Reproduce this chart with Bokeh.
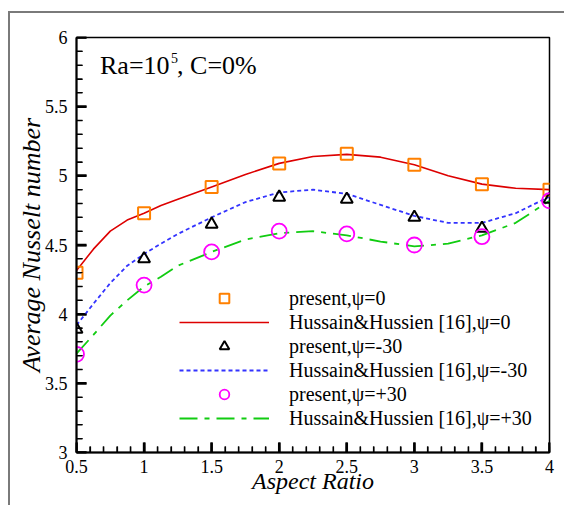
import math
from bokeh.plotting import figure
from bokeh.models import Range1d, FixedTicker, Legend, LegendItem, Label, InlineStyleSheet
from bokeh.embed import file_html
from bokeh.resources import INLINE

# ---- data ----
aspect = [0.5, 1.0, 1.5, 2.0, 2.5, 3.0, 3.5, 4.0]
present_0 = [4.30, 4.73, 4.92, 5.09, 5.16, 5.08, 4.94, 4.90]
present_m30 = [3.89, 4.40, 4.65, 4.845, 4.83, 4.70, 4.62, 4.83]
present_p30 = [3.71, 4.21, 4.45, 4.60, 4.58, 4.50, 4.56, 4.82]

line_x = [0.5, 0.625, 0.75, 0.875, 1.0, 1.125, 1.25, 1.5, 1.75, 2.0, 2.25, 2.5,
          2.75, 3.0, 3.25, 3.5, 3.75, 4.0]
hh_0 = [4.315, 4.47, 4.60, 4.68, 4.73, 4.785, 4.83, 4.92, 5.01, 5.09, 5.14, 5.155,
        5.135, 5.08, 5.00, 4.94, 4.91, 4.90]
hh_m30 = [3.92, 4.075, 4.225, 4.35, 4.435, 4.51, 4.58, 4.70, 4.81, 4.88, 4.90, 4.87,
          4.79, 4.71, 4.66, 4.66, 4.73, 4.85]
hh_p30 = [3.715, 3.85, 3.99, 4.10, 4.20, 4.27, 4.35, 4.45, 4.54, 4.585, 4.60, 4.57,
          4.525, 4.49, 4.51, 4.57, 4.66, 4.82]

x_ticks = [0.5, 1.0, 1.5, 2.0, 2.5, 3.0, 3.5, 4.0]
x_tick_labels = ["0.5", "1", "1.5", "2", "2.5", "3", "3.5", "4"]
y_ticks = [3.0, 3.5, 4.0, 4.5, 5.0, 5.5, 6.0]
y_tick_labels = ["3", "3.5", "4", "4.5", "5", "5.5", "6"]
x_minor = [round(0.5 + 0.1 * i, 2) for i in range(36)]
y_minor = [round(3.0 + 0.1 * i, 2) for i in range(31)]

legend_labels = [
    "present,\u03c8=0",
    "Hussain&Hussien [16],\u03c8=0",
    "present,\u03c8=-30",
    "Hussain&Hussien [16],\u03c8=-30",
    "present,\u03c8=+30",
    "Hussain&Hussien [16],\u03c8=+30",
]

FONT = "Liberation Serif"
X0, X1, Y0, Y1 = 0.5, 4.0, 3.0, 6.0

frame_css = InlineStyleSheet(css="""
:host::after {
  content: "";
  position: absolute;
  left: 8px; top: 11px; width: 700px; height: 700px;
  border-left: 2px solid #7a7a7a;
  border-top: 2px solid #7a7a7a;
  pointer-events: none;
  z-index: 5;
}
""")

p = figure(width=564, height=505, x_range=Range1d(X0, X1), y_range=Range1d(Y0, Y1),
           output_backend="svg", toolbar_location=None,
           min_border_left=76, min_border_right=15, min_border_top=37, min_border_bottom=53,
           stylesheets=[frame_css])
p.background_fill_color = "white"
p.border_fill_color = "white"
p.xgrid.visible = False
p.ygrid.visible = False
p.outline_line_color = "black"
p.outline_line_width = 1.5

# inward ticks: dash markers centred on the axis line; the frame clips the outer half
xm = [t for t in x_minor if all(abs(t - m) > 1e-6 for m in x_ticks)]
ym = [t for t in y_minor if all(abs(t - m) > 1e-6 for m in y_ticks)]
p.scatter(x_ticks, [Y0] * len(x_ticks), marker="dash", size=20, angle=math.pi / 2,
          line_color="black", line_width=2.5)
p.scatter(xm, [Y0] * len(xm), marker="dash", size=12, angle=math.pi / 2,
          line_color="black", line_width=1.5)
p.scatter([X0] * len(y_ticks), y_ticks, marker="dash", size=20,
          line_color="black", line_width=2.5)
p.scatter([X0] * len(ym), ym, marker="dash", size=12,
          line_color="black", line_width=1.5)

r_l0 = p.line(line_x, hh_0, line_color="#dd0000", line_width=1.6)
r_lm = p.line(line_x, hh_m30, line_color="#3333ff", line_width=1.8, line_dash="4 3")
r_lp = p.line(line_x, hh_p30, line_color="#11cc11", line_width=1.8, line_dash="18 7 5 7")

r_s0 = p.scatter(aspect, present_0, marker="square", size=12, fill_alpha=0,
                 line_color="#ff8000", line_width=2)
r_sm = p.scatter(aspect, present_m30, marker="triangle", size=12, fill_alpha=0,
                 line_color="black", line_width=2)
r_sp = p.scatter(aspect, present_p30, marker="circle", size=15, fill_alpha=0,
                 line_color="#ff00ff", line_width=1.8)

for ax in (p.xaxis[0], p.yaxis[0]):
    ax.axis_line_width = 2
    ax.axis_line_color = "black"
    ax.major_tick_in = 10
    ax.major_tick_out = 0
    ax.minor_tick_in = 6
    ax.minor_tick_out = 0
    ax.major_tick_line_color = "black"
    ax.minor_tick_line_color = "black"
    ax.major_tick_line_width = 2
    ax.minor_tick_line_width = 1.2
    ax.major_label_text_font = FONT
    ax.major_label_text_font_size = "18px"
    ax.major_label_text_color = "black"
    ax.axis_label_text_font = FONT
    ax.axis_label_text_font_style = "italic"
    ax.axis_label_text_color = "black"

p.xaxis[0].ticker = FixedTicker(ticks=x_ticks, minor_ticks=x_minor)
p.yaxis[0].ticker = FixedTicker(ticks=y_ticks, minor_ticks=y_minor)
p.xaxis[0].major_label_overrides = dict(zip(x_ticks, x_tick_labels))
p.yaxis[0].major_label_overrides = dict(zip(y_ticks, y_tick_labels))
p.xaxis[0].axis_label = "Aspect Ratio"
p.yaxis[0].axis_label = "Average Nusselt number"
p.xaxis[0].axis_label_text_font_size = "24px"
p.yaxis[0].axis_label_text_font_size = "26px"
p.xaxis[0].major_label_standoff = 7
p.yaxis[0].major_label_standoff = 9
p.xaxis[0].axis_label_standoff = -8
p.yaxis[0].axis_label_standoff = -4

# annotation
p.add_layout(Label(x=0.674, y=5.796, text="Ra=10", text_font=FONT, text_font_size="26px",
                   text_color="black", text_baseline="alphabetic"))
p.add_layout(Label(x=1.20, y=5.853, text="5", text_font=FONT, text_font_size="14px",
                   text_color="black", text_baseline="alphabetic"))
p.add_layout(Label(x=1.244, y=5.796, text=", C=0%", text_font=FONT, text_font_size="26px",
                   text_color="black", text_baseline="alphabetic"))

renderers = [r_s0, r_l0, r_sm, r_lm, r_sp, r_lp]
items = [LegendItem(label=lab, renderers=[r]) for lab, r in zip(legend_labels, renderers)]
legend = Legend(items=items, location=(103, 22), glyph_width=90, glyph_height=24,
                label_height=24, spacing=0, padding=0, margin=0, label_standoff=20,
                label_text_font=FONT, label_text_font_size="20px", label_text_color="black",
                border_line_alpha=0, background_fill_alpha=0)
p.add_layout(legend)

open("out.html", "w").write(file_html(p, INLINE))
